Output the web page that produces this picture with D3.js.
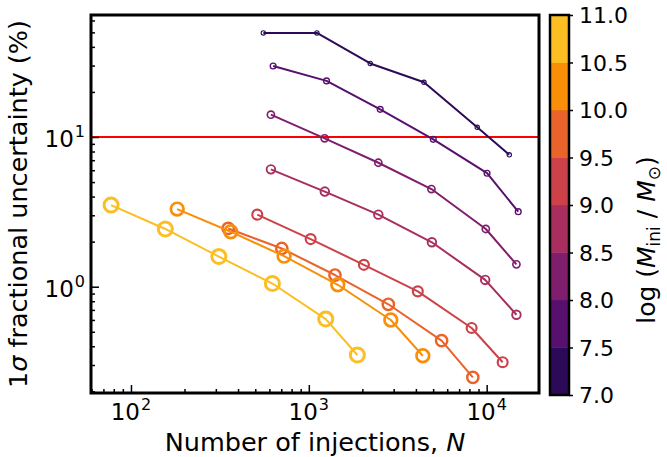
<!DOCTYPE html>
<html>
<head>
<meta charset="utf-8">
<script src="https://cdn.jsdelivr.net/npm/d3@7"></script>
<style>
  html, body { margin: 0; padding: 0; background: #fff; }
  svg { display: block; }
  text { font-family: "DejaVu Sans", sans-serif; fill: #000; }
</style>
</head>
<body>
<svg id="chart" width="667" height="457"></svg>
<script>
// ---------- data ----------
const massCentres = [7.25, 7.75, 8.25, 8.75, 9.25, 9.75, 10.25, 10.75];
const cbTicks = [7.0, 7.5, 8.0, 8.5, 9.0, 9.5, 10.0, 10.5, 11.0];
const xTickExps = [2, 3, 4];
const yTickExps = [0, 1];
const threshold = 10;

const n_725 = [555, 1110, 2215, 4440, 8850, 13400];
const u_725 = [49.6, 49.6, 31.0, 23.2, 11.6, 7.6];
const n_775 = [630, 1258, 2520, 5010, 10050, 15050];
const u_775 = [29.8, 23.7, 15.3, 9.65, 5.73, 3.17];
const n_825 = [612, 1227, 2460, 4890, 9890, 14700];
const u_825 = [14.1, 9.8, 6.73, 4.49, 2.43, 1.41];
const n_875 = [612, 1230, 2460, 4920, 9810, 14700];
const u_875 = [6.08, 4.32, 3.03, 1.98, 1.11, 0.65];
const n_925 = [513, 1024, 2040, 4100, 8230, 12300];
const u_925 = [3.03, 2.08, 1.40, 0.931, 0.530, 0.313];
const n_975 = [352, 705, 1403, 2800, 5580, 8360];
const u_975 = [2.45, 1.80, 1.197, 0.763, 0.436, 0.248];
const n_1025 = [182, 364, 726, 1455, 2890, 4375];
const u_1025 = [3.30, 2.33, 1.60, 1.03, 0.599, 0.346];
const n_1075 = [77.3, 156, 312, 624, 1245, 1875];
const u_1075 = [3.51, 2.43, 1.59, 1.05, 0.608, 0.350];

const seriesN = [n_725, n_775, n_825, n_875, n_925, n_975, n_1025, n_1075];
const seriesU = [u_725, u_775, u_825, u_875, u_925, u_975, u_1025, u_1075];

// ---------- layout ----------
const svg = d3.select("#chart");
const L = 91, R = 539, T = 15, B = 393;
const x = d3.scaleLog().domain([59.6, 19690]).range([L, R]);
const y = d3.scaleLog().domain([0.195, 65.3]).range([B, T]);
const colour = m => d3.interpolateInferno((m - 6.5) / 5);

const plot = svg.append("g");
const clipId = "plotclip";
svg.append("defs").append("clipPath").attr("id", clipId)
  .append("rect").attr("x", L).attr("y", T).attr("width", R - L).attr("height", B - T);

// red threshold line
plot.append("line")
  .attr("x1", L).attr("x2", R)
  .attr("y1", y(threshold)).attr("y2", y(threshold))
  .attr("stroke", "#ff0000").attr("stroke-width", 2);

const lineGen = d3.line().x(d => x(d[0])).y(d => y(d[1]));
const marks = plot.append("g").attr("clip-path", `url(#${clipId})`);
massCentres.forEach((m, i) => {
  const pts = seriesN[i].map((n, k) => [n, seriesU[i][k]]);
  const c = colour(m);
  const g = marks.append("g");
  g.append("path").datum(pts).attr("d", lineGen)
    .attr("fill", "none").attr("stroke", c).attr("stroke-width", 2)
    .attr("stroke-linejoin", "round");
  const rr = 2.2 + i * 0.69;
  const sw = 1.1 + i * 0.27;
  g.selectAll("circle").data(pts).join("circle")
    .attr("cx", d => x(d[0])).attr("cy", d => y(d[1]))
    .attr("r", rr).attr("fill", "none")
    .attr("stroke", c).attr("stroke-width", sw);
});

// ---------- axes (inward ticks) ----------
const xMajor = xTickExps.map(e => Math.pow(10, e));
const xMinor = [];
for (let e = 1; e <= 4; e++) for (let k = 2; k <= 9; k++) {
  const v = k * Math.pow(10, e);
  if (v > x.domain()[0] && v < x.domain()[1]) xMinor.push(v);
}
const yMajor = yTickExps.map(e => Math.pow(10, e));
const yMinor = [];
for (let e = -1; e <= 1; e++) for (let k = 2; k <= 9; k++) {
  const v = k * Math.pow(10, e);
  if (v > y.domain()[0] && v < y.domain()[1]) yMinor.push(v);
}

const xAxisMaj = d3.axisBottom(x).tickValues(xMajor).tickSize(-8).tickFormat("");
const xAxisMin = d3.axisBottom(x).tickValues(xMinor).tickSize(-4).tickFormat("");
const yAxisMaj = d3.axisLeft(y).tickValues(yMajor).tickSize(-8).tickFormat("");
const yAxisMin = d3.axisLeft(y).tickValues(yMinor).tickSize(-4).tickFormat("");

function styleAxis(g) {
  g.select(".domain").remove();
  g.selectAll(".tick line").attr("stroke", "#000").attr("stroke-width", 1.5);
}
svg.append("g").attr("transform", `translate(0,${B})`).call(xAxisMaj).call(styleAxis);
svg.append("g").attr("transform", `translate(0,${B})`).call(xAxisMin).call(styleAxis);
svg.append("g").attr("transform", `translate(${L},0)`).call(yAxisMaj).call(styleAxis);
svg.append("g").attr("transform", `translate(${L},0)`).call(yAxisMin).call(styleAxis);

// tick labels 10^k
xTickExps.forEach(e => {
  const t = svg.append("text").attr("x", x(Math.pow(10, e))).attr("y", 420)
    .attr("text-anchor", "middle").style("font-size", "23px");
  t.append("tspan").text("10");
  t.append("tspan").attr("dx", 1).attr("dy", -10).style("font-size", "16px").text(e);
});
yTickExps.forEach(e => {
  const t = svg.append("text").attr("x", 85).attr("y", y(Math.pow(10, e)) + 10)
    .attr("text-anchor", "end").style("font-size", "23px");
  t.append("tspan").text("10");
  t.append("tspan").attr("dx", 1).attr("dy", -10).style("font-size", "16px").text(e);
});

// frame
svg.append("rect").attr("x", L).attr("y", T).attr("width", R - L).attr("height", B - T)
  .attr("fill", "none").attr("stroke", "#000").attr("stroke-width", 3);

// axis labels
const xl = svg.append("text").attr("x", (L + R) / 2).attr("y", 451)
  .attr("text-anchor", "middle").style("font-size", "25.5px");
xl.append("tspan").text("Number of injections, ");
xl.append("tspan").style("font-style", "italic").text("N");

const yl = svg.append("text")
  .attr("transform", `translate(27,${(T + B) / 2}) rotate(-90)`)
  .attr("text-anchor", "middle").style("font-size", "25.5px");
yl.append("tspan").text("1");
yl.append("tspan").style("font-style", "italic").text("σ");
yl.append("tspan").text(" fractional uncertainty (%)");

// ---------- colourbar ----------
const cbL = 550, cbW = 19, cbT = 15, cbB = 395;
const cy = d3.scaleLinear().domain([7, 11]).range([cbB, cbT]);
const bands = cbTicks.slice(0, -1).map((v, i) => [v, cbTicks[i + 1], massCentres[i]]);
svg.append("g").selectAll("rect").data(bands).join("rect")
  .attr("x", cbL).attr("width", cbW)
  .attr("y", d => cy(d[1])).attr("height", d => cy(d[0]) - cy(d[1]))
  .attr("fill", d => colour(d[2])).attr("stroke", d => colour(d[2])).attr("stroke-width", 0.5);
svg.append("rect").attr("x", cbL).attr("y", cbT).attr("width", cbW).attr("height", cbB - cbT)
  .attr("fill", "none").attr("stroke", "#000").attr("stroke-width", 2.5);
const cbAxis = d3.axisRight(cy).tickValues(cbTicks).tickSize(4).tickPadding(6)
  .tickFormat(d3.format(".1f"));
const cbg = svg.append("g").attr("transform", `translate(${cbL + cbW},0)`).call(cbAxis);
cbg.select(".domain").remove();
cbg.selectAll(".tick line").attr("stroke", "#000").attr("stroke-width", 1.5);
cbg.selectAll(".tick text").style("font-size", "22px")
  .style("font-family", "DejaVu Sans, sans-serif").attr("fill", "#000").attr("dy", "0.36em");

const cl = svg.append("text")
  .attr("transform", `translate(655,240) rotate(-90)`)
  .attr("text-anchor", "middle").style("font-size", "25px");
cl.append("tspan").text("log (");
cl.append("tspan").style("font-style", "italic").text("M");
cl.append("tspan").attr("dy", 5).style("font-size", "17px").text("ini");
cl.append("tspan").attr("dy", -5).text(" / ");
cl.append("tspan").style("font-style", "italic").text("M");
cl.append("tspan").attr("dy", 5).style("font-size", "17px").text("⊙");
cl.append("tspan").attr("dy", -5).text(")");
</script>
</body>
</html>
